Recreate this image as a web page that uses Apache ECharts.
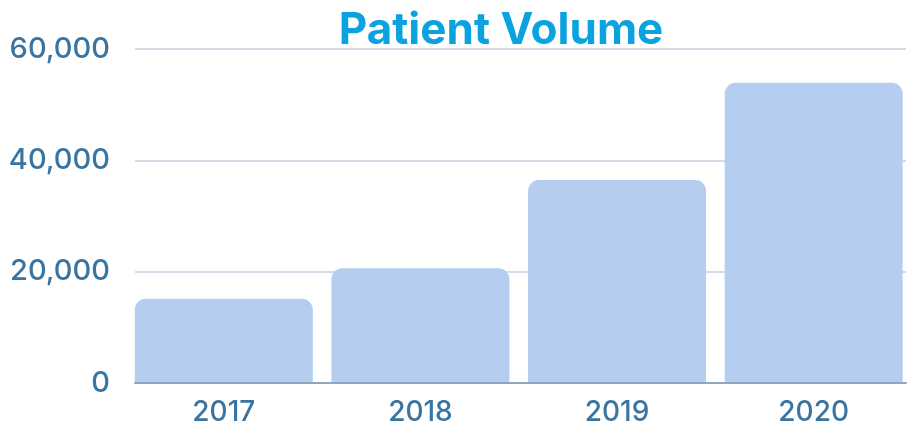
<!DOCTYPE html>
<html>
<head>
<meta charset="utf-8">
<script src="https://cdn.jsdelivr.net/npm/echarts@6/dist/echarts.min.js"></script>
<style>
  html, body { margin: 0; padding: 0; background: #fff; }
  #chart { width: 912px; height: 427px; }
</style>
</head>
<body>
<div id="chart"></div>
<script>
// 年份与患者量
var years = ['2017', '2018', '2019', '2020']
var patients = [15000, 20500, 36400, 53900]

var labelColor = '#3a74a0'
var fontName = 'Inter'

var myChart = echarts.init(document.getElementById('chart'))

// grid 0: 网格线和坐标轴, grid 1: 柱子(两端不留空)
var option = {
    animation: false,
    title: {
        text: 'Patient Volume',
        left: 496,
        textAlign: 'center',
        top: 4,
        textStyle: {
            color: '#0ba3df',
            fontSize: 44,
            fontWeight: 'bold',
            fontFamily: fontName
        }
    },
    grid: [
        { left: 135, right: 6, top: 49, bottom: 44 },
        { left: 125.5, right: -3.5, top: 49, bottom: 44 }
    ],
    xAxis: [{
        type: 'category',
        gridIndex: 0,
        data: years,
        axisLine: { show: true, lineStyle: { color: '#8ea7c0', width: 2 } },
        axisTick: { show: false },
        axisLabel: { show: false }
    }, {
        type: 'category',
        gridIndex: 1,
        data: years,
        axisLine: { show: false },
        axisTick: { show: false },
        axisLabel: {
            color: labelColor,
            fontSize: 28,
            fontWeight: 500,
            fontFamily: fontName,
            margin: 17
        }
    }],
    yAxis: [{
        type: 'value',
        gridIndex: 0,
        min: 0,
        max: 60000,
        interval: 20000,
        axisLine: { show: false },
        axisTick: { show: false },
        axisLabel: {
            color: labelColor,
            fontSize: 29,
            fontWeight: 500,
            fontFamily: fontName,
            margin: 25,
            formatter: function (v) { return v.toLocaleString('en-US') }
        },
        splitLine: { lineStyle: { color: '#c4d2e3', width: 1.5 } }
    }, {
        type: 'value',
        gridIndex: 1,
        min: 0,
        max: 60000,
        interval: 20000,
        show: false,
        splitLine: { show: false }
    }],
    series: [{
        type: 'bar',
        xAxisIndex: 1,
        yAxisIndex: 1,
        data: patients,
        barWidth: 178,
        itemStyle: {
            color: '#b5cdee',
            borderRadius: [11, 11, 0, 0]
        }
    }]
}

myChart.setOption(option)
</script>
</body>
</html>
